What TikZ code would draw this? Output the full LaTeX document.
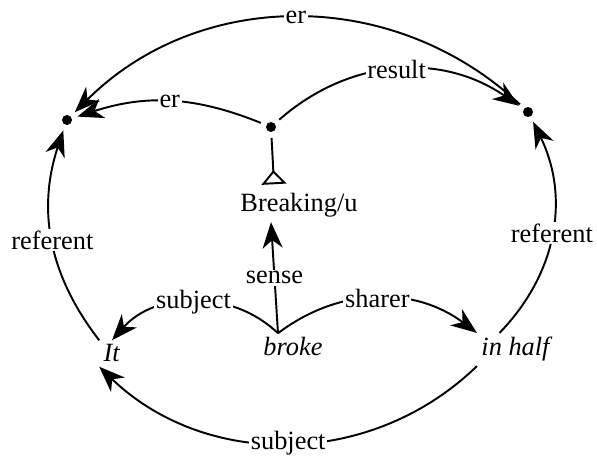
\documentclass[tikz,border=0pt]{standalone}
\usepackage{fontspec}
\setmainfont{Liberation Serif}
\usetikzlibrary{arrows.meta}

\begin{document}
\begin{tikzpicture}[
    font=\fontsize{15pt}{18pt}\selectfont,
    line width=1.1pt,
    >={Stealth[length=0.52cm,width=0.4cm,inset=0.16cm]},
    dotnode/.style={circle,fill,inner sep=0pt,minimum size=0.2cm,outer sep=0.12cm},
    word/.style={anchor=base,inner sep=2pt},
    lab/.style={fill=white,inner sep=1pt}]
    \useasboundingbox (0,0) rectangle (11.94,9.12);
    % the three dots
    \node[dotnode] (l) at (1.34,6.72) {};
    \node[dotnode] (c) at (5.42,6.58) {};
    \node[dotnode] (r) at (10.56,6.88) {};
    % words
    \node[word] (brk) at (5.98,4.88) {Breaking/u};
    \node[word] (it) at (2.24,1.88) {\textit{It}};
    \node[word] (broke) at (5.86,2.00) {\textit{broke}};
    \node[word] (half) at (10.34,2.00) {\textit{in half}};

    \draw[->] (c) to[bend right=20] node[lab] {er} (l);
    \draw[->] (r) to[bend right=44] node[lab] {er} (l);
    \draw[->] (c) to[bend left=38] node[lab] {result} (r);
    \draw[-{Triangle[open,reversed,length=0.28cm,width=0.5cm]}] (c) -- ([xshift=-0.5cm,yshift=0.1cm]brk.north);
    \draw[->] ([xshift=-0.3cm]broke.north) -- node[lab] {sense} ([xshift=-0.56cm]brk.south);
    \draw[->] ([xshift=-0.3cm]broke.north) to[bend right=46] node[lab] {subject} (it.north);
    \draw[->] ([xshift=-0.3cm]broke.north) to[bend left=37] node[lab] {sharer} (half.north west);
    \draw[->] (half.south west) to[bend left=44] node[lab] {subject} (it.south west);
    \draw[->] (it.north west) to[bend left=28] node[lab] {referent} (l);
    \draw[->] ([xshift=-0.35cm]half.north) to[bend right=35] node[lab] {referent} (r);
\end{tikzpicture}
\end{document}
